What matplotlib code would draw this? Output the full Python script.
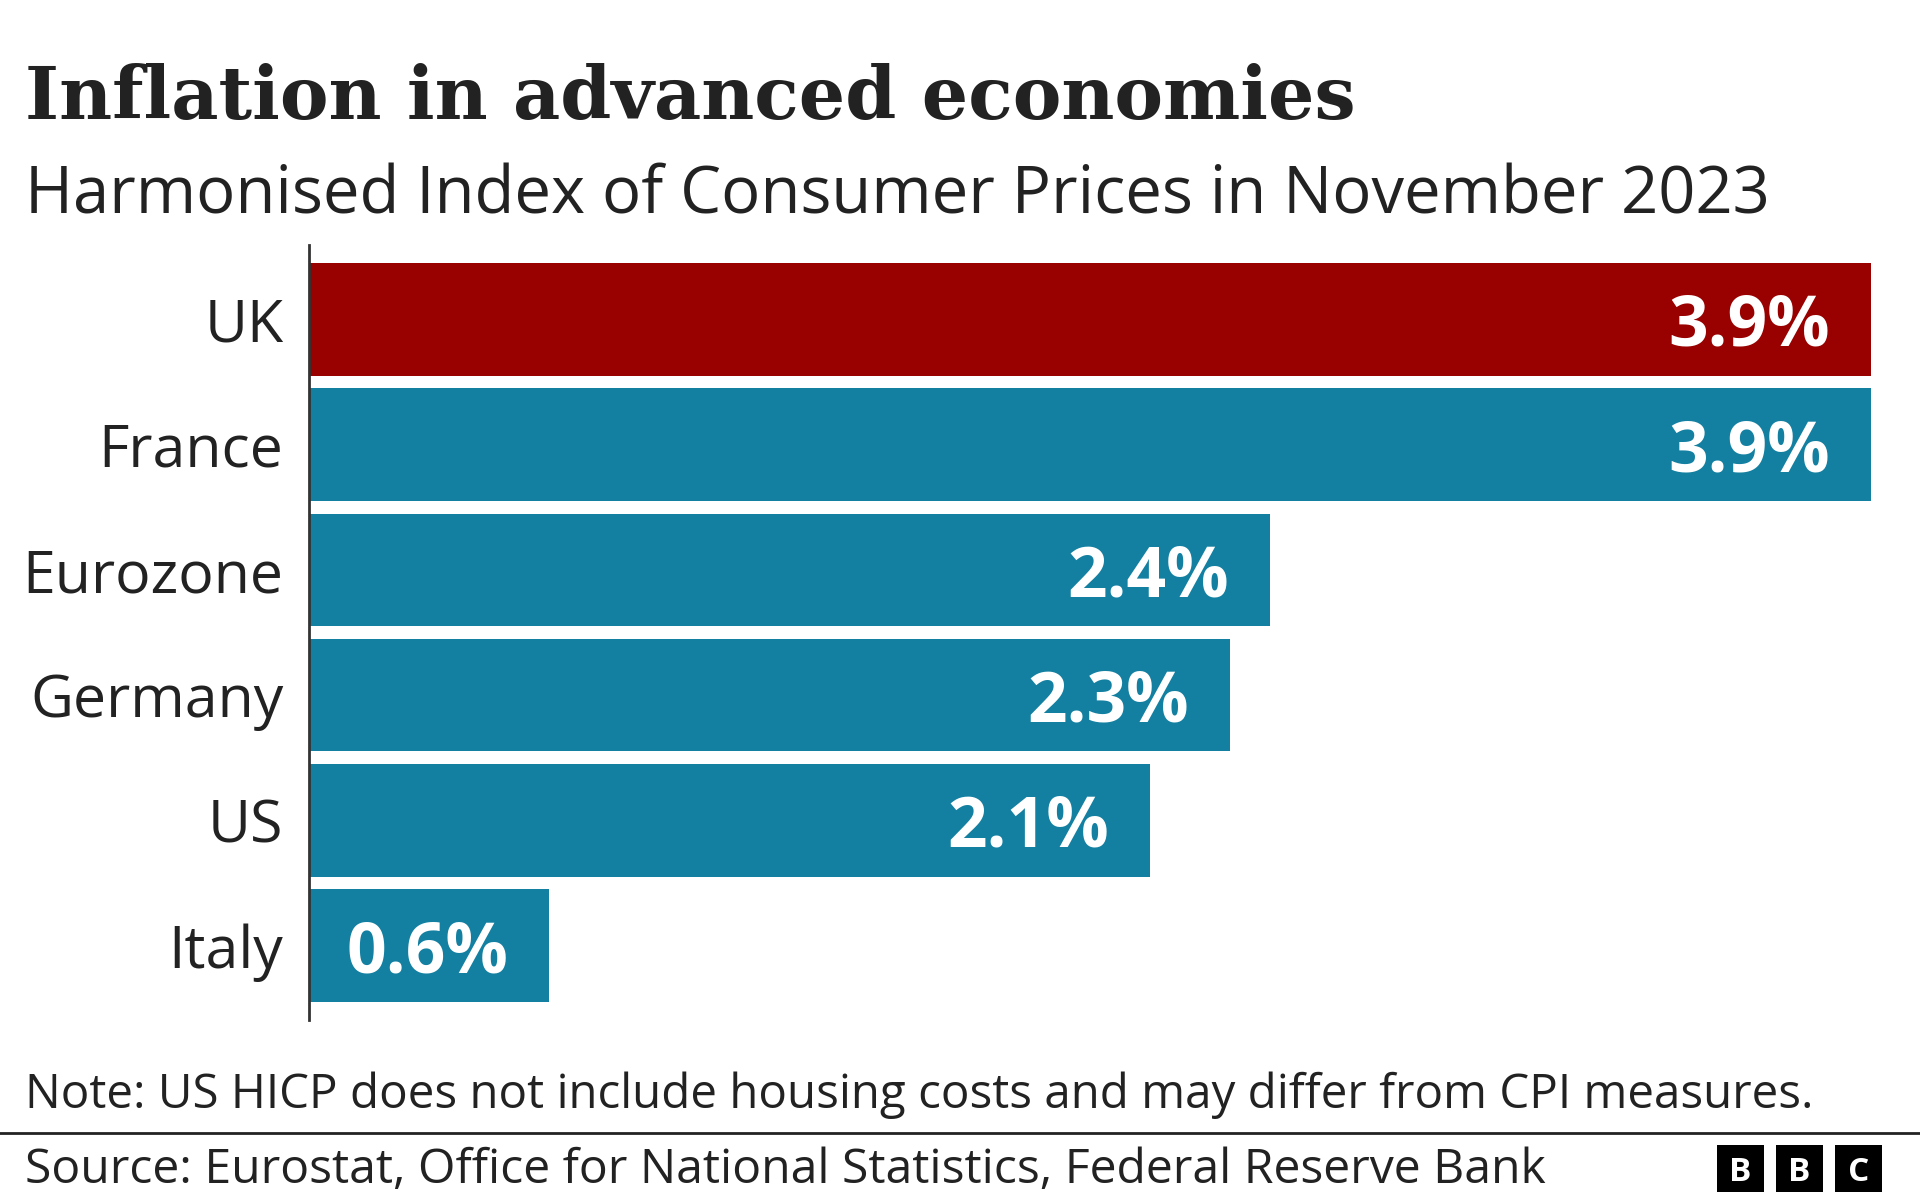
import matplotlib
matplotlib.use("Agg")
import matplotlib.pyplot as plt
from matplotlib.patches import Rectangle

categories = ["UK", "France", "Eurozone", "Germany", "US", "Italy"]
values = [3.9, 3.9, 2.4, 2.3, 2.1, 0.6]
labels = ["3.9%", "3.9%", "2.4%", "2.3%", "2.1%", "0.6%"]
bar_colors = ["#990000", "#1380a1", "#1380a1", "#1380a1", "#1380a1", "#1380a1"]

title = "Inflation in advanced economies"
subtitle = "Harmonised Index of Consumer Prices in November 2023"
note = "Note: US HICP does not include housing costs and may differ from CPI measures."
source = "Source: Eurostat, Office for National Statistics, Federal Reserve Bank"

W, H = 1920, 1200
TXT = "#222222"
SANS = ["Open Sans", "DejaVu Sans"]
SERIF = ["DejaVu Serif"]

fig = plt.figure(figsize=(W / 100, H / 100), dpi=100)
fig.patch.set_facecolor("white")
renderer = fig.canvas.get_renderer()


def fx(px):
    return px / W


def fy(py):
    return 1 - py / H


def fit_text(x, y, s, target_w, **kw):
    t = fig.text(fx(x), fy(y), s, fontsize=20, **kw)
    w = t.get_window_extent(renderer=renderer).width
    t.set_fontsize(20 * target_w / w)
    return t


fit_text(25, 119, title, 1332, family=SERIF, fontweight="bold", color=TXT, va="baseline")
fit_text(25, 214, subtitle, 1739, family=SANS, color=TXT, va="baseline")
fit_text(25, 1108, note, 1784, family=SANS, color=TXT, va="baseline")
fit_text(25, 1183, source, 1518, family=SANS, color=TXT, va="baseline")

# separator line
fig.add_artist(plt.Line2D([0, 1], [fy(1133), fy(1133)], color="#222222", lw=2.0,
                          transform=fig.transFigure))

# BBC logo
for i, ch in enumerate("BBC"):
    x0 = 1717 + i * 59
    fig.add_artist(Rectangle((fx(x0), fy(1192)), 47 / W, 47 / H, transform=fig.transFigure,
                             facecolor="black", edgecolor="none"))
    fig.text(fx(x0 + 23.5), fy(1168.5), ch, family=SANS, fontweight="bold", color="white",
             fontsize=24, ha="center", va="center_baseline")

# axes
left, right, top, bottom = 309, 1871, 245, 1020
ax = fig.add_axes([fx(left), fy(bottom), (right - left) / W, (bottom - top) / H])
ypos = list(range(len(categories)))
ax.barh(ypos, values, height=0.9, color=bar_colors, edgecolor="none")
ax.set_xlim(0, 3.9)
ax.set_ylim(5.595, -0.595)
for s in ["top", "right", "bottom"]:
    ax.spines[s].set_visible(False)
ax.spines["left"].set_color("#333333")
ax.spines["left"].set_linewidth(2.0)
ax.set_xticks([])
ax.set_yticks(ypos)
ax.set_yticklabels(categories, family=SANS, fontsize=42.5, color=TXT)
ax.tick_params(axis="y", length=0, pad=18.5)

px_per_unit = (right - left) / 3.9
for yv, v, lab in zip(ypos, values, labels):
    ax.text(v - 41 / px_per_unit, yv, lab, ha="right", va="center_baseline", family=SANS,
            fontweight="bold", fontsize=50, color="white")

fig.savefig("out.png", dpi=100, facecolor="white")
